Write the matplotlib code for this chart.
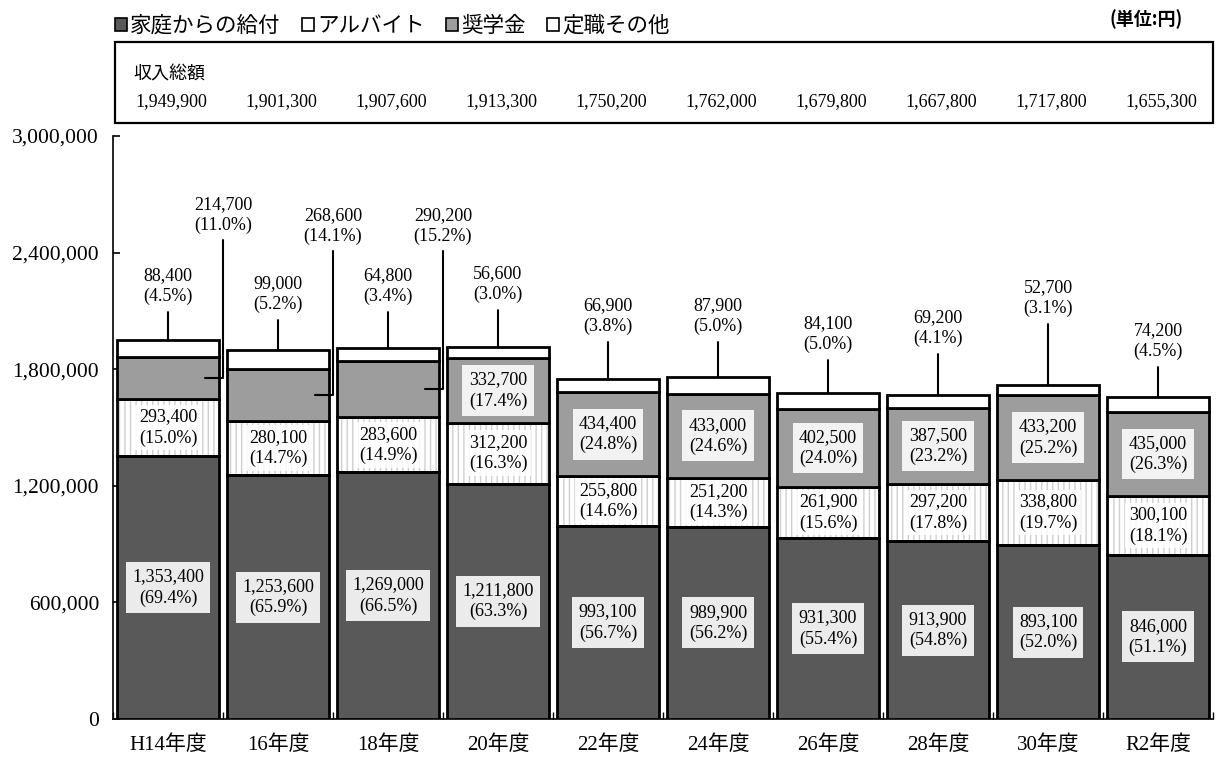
import numpy as np
import matplotlib
matplotlib.use('Agg')
import matplotlib.pyplot as plt
import matplotlib.ticker as mticker
import matplotlib.transforms as mtransforms
from matplotlib.patches import Patch, Rectangle

# 学生生活調査: 収入の内訳（単位:円）
years = ['H14年度', '16年度', '18年度', '20年度', '22年度',
         '24年度', '26年度', '28年度', '30年度', 'R2年度']

home = [1353400, 1253600, 1269000, 1211800, 993100, 989900, 931300, 913900, 893100, 846000]
home_pct = [69.4, 65.9, 66.5, 63.3, 56.7, 56.2, 55.4, 54.8, 52.0, 51.1]

parttime = [293400, 280100, 283600, 312200, 255800, 251200, 261900, 297200, 338800, 300100]
parttime_pct = [15.0, 14.7, 14.9, 16.3, 14.6, 14.3, 15.6, 17.8, 19.7, 18.1]

scholarship = [214700, 268600, 290200, 332700, 434400, 433000, 402500, 387500, 433200, 435000]
scholarship_pct = [11.0, 14.1, 15.2, 17.4, 24.8, 24.6, 24.0, 23.2, 25.2, 26.3]

other = [88400, 99000, 64800, 56600, 66900, 87900, 84100, 69200, 52700, 74200]
other_pct = [4.5, 5.2, 3.4, 3.0, 3.8, 5.0, 5.0, 4.1, 3.1, 4.5]

totals = [1949900, 1901300, 1907600, 1913300, 1750200, 1762000, 1679800, 1667800, 1717800, 1655300]

# label placement (layout only)
other_label_y = [2228000, 2187000, 2228000, 2238000, 2074000, 2074000, 1981000, 2012000, 2166000, 1945000]
sch_out_label_y = [2593000, 2537000, 2537000]

SERIF = ['Liberation Serif', 'Noto Sans CJK JP']
SANS = ['Noto Sans CJK JP', 'DejaVu Sans']
plt.rcParams['font.family'] = SERIF
plt.rcParams['hatch.linewidth'] = 1.0

HOME_C = '#595959'
SCH_C = '#9d9d9d'
EDGE_LW = 2.0


def fmt(v, p):
    return f'{v:,}\n({p:.1f}%)'


fig = plt.figure(figsize=(12.19, 7.6), dpi=100)
ax = fig.add_axes([113 / 1219, 41 / 760, 1100 / 1219, 583 / 760])

x = np.arange(len(years))
w = 0.92
home_a = np.array(home)
part_a = np.array(parttime)
sch_a = np.array(scholarship)
oth_a = np.array(other)

b_part = home_a
b_sch = home_a + part_a
b_oth = b_sch + sch_a

ax.bar(x, home_a, w, color=HOME_C, edgecolor='black', lw=EDGE_LW, zorder=3)
ax.bar(x, part_a, w, bottom=b_part, color='white', edgecolor='#cfcfcf', hatch='|||', lw=0, zorder=2)
ax.bar(x, part_a, w, bottom=b_part, facecolor='none', edgecolor='black', lw=EDGE_LW, zorder=3)
ax.bar(x, sch_a, w, bottom=b_sch, color=SCH_C, edgecolor='black', lw=EDGE_LW, zorder=3)
ax.bar(x, oth_a, w, bottom=b_oth, color='white', edgecolor='black', lw=EDGE_LW, zorder=3)

lab_kw = dict(ha='center', va='center', fontsize=13, linespacing=1.3, zorder=5)

for i in range(len(years)):
    ax.text(x[i], home_a[i] / 2, fmt(home[i], home_pct[i]),
            bbox=dict(boxstyle='square,pad=0.35', fc='#ebebeb', ec='none'), **lab_kw)
    ax.text(x[i], b_part[i] + part_a[i] / 2, fmt(parttime[i], parttime_pct[i]),
            bbox=dict(boxstyle='square,pad=0.2', fc='white', ec='none', alpha=0.85), **lab_kw)
    if i >= 3:
        ax.text(x[i], b_sch[i] + sch_a[i] / 2, fmt(scholarship[i], scholarship_pct[i]),
                bbox=dict(boxstyle='square,pad=0.35', fc='#f2f2f2', ec='none'), **lab_kw)
    else:
        ax.annotate(fmt(scholarship[i], scholarship_pct[i]),
                    xy=(x[i] + 0.34, b_sch[i] + sch_a[i] / 2),
                    xytext=(x[i] + 0.5, sch_out_label_y[i]),
                    ha='center', va='center', fontsize=13, linespacing=1.3, zorder=5,
                    arrowprops=dict(arrowstyle='-', color='black', lw=1.5,
                                    shrinkA=2, shrinkB=0,
                                    connectionstyle='angle,angleA=90,angleB=0,rad=0'))
    ax.annotate(fmt(other[i], other_pct[i]),
                xy=(x[i], totals[i]), xytext=(x[i], other_label_y[i]),
                ha='center', va='center', fontsize=13, linespacing=1.3, zorder=5,
                arrowprops=dict(arrowstyle='-', color='black', lw=1.5, shrinkA=3, shrinkB=0))

ax.set_xlim(-0.5, len(years) - 0.5)
ax.set_ylim(0, 3000000)
ax.set_yticks(np.arange(0, 3000001, 600000))
ax.yaxis.set_major_formatter(mticker.FuncFormatter(lambda v, _: f'{v:,.0f}'))
ax.tick_params(axis='y', direction='in', length=5, labelsize=15.5, pad=10, width=1.2)
ax.set_xticks(x)
ax.set_xticklabels(years)
ax.set_xticks(np.arange(-0.5, len(years), 1), minor=True)
ax.tick_params(axis='x', which='major', length=0, labelsize=15, pad=12)
ax.tick_params(axis='x', which='minor', direction='in', length=5, width=1.0)
for s in ['top', 'right']:
    ax.spines[s].set_visible(False)
for s in ['left', 'bottom']:
    ax.spines[s].set_linewidth(1.2)

# 収入総額 box
fig.patches.append(Rectangle((115 / 1219, 1 - 123 / 760), 1098 / 1219, 81 / 760,
                             transform=fig.transFigure, fill=False, ec='black', lw=1.6))
fig.text(133 / 1219, 1 - 75 / 760, '収入総額', family=SANS, fontsize=13, va='center')
trans = mtransforms.blended_transform_factory(ax.transData, fig.transFigure)
for i, t in enumerate(totals):
    ax.text(x[i] + 0.03, 1 - 102 / 760, f'{t:,}', transform=trans, ha='center', va='center', fontsize=13)

fig.text(1183 / 1219, 1 - 19 / 760, '(単位:円)', family=SANS, fontsize=13,
         ha='right', va='center', fontweight='bold')

handles = [Patch(fc=HOME_C, ec='black', lw=1.2), Patch(fc='white', ec='black', lw=1.2),
           Patch(fc=SCH_C, ec='black', lw=1.2), Patch(fc='white', ec='black', lw=1.2)]
names = ['家庭からの給付', 'アルバイト', '奨学金', '定職その他']
fig.legend(handles, names, loc='upper left', bbox_to_anchor=(115 / 1219, 1 - 15 / 760),
           ncol=4, frameon=False, prop=dict(family=SANS, size=15.5),
           handlelength=0.55, handleheight=0.55, handletextpad=0.15,
           columnspacing=1.0, borderpad=0, borderaxespad=0)

fig.savefig('out.png', dpi=100)
